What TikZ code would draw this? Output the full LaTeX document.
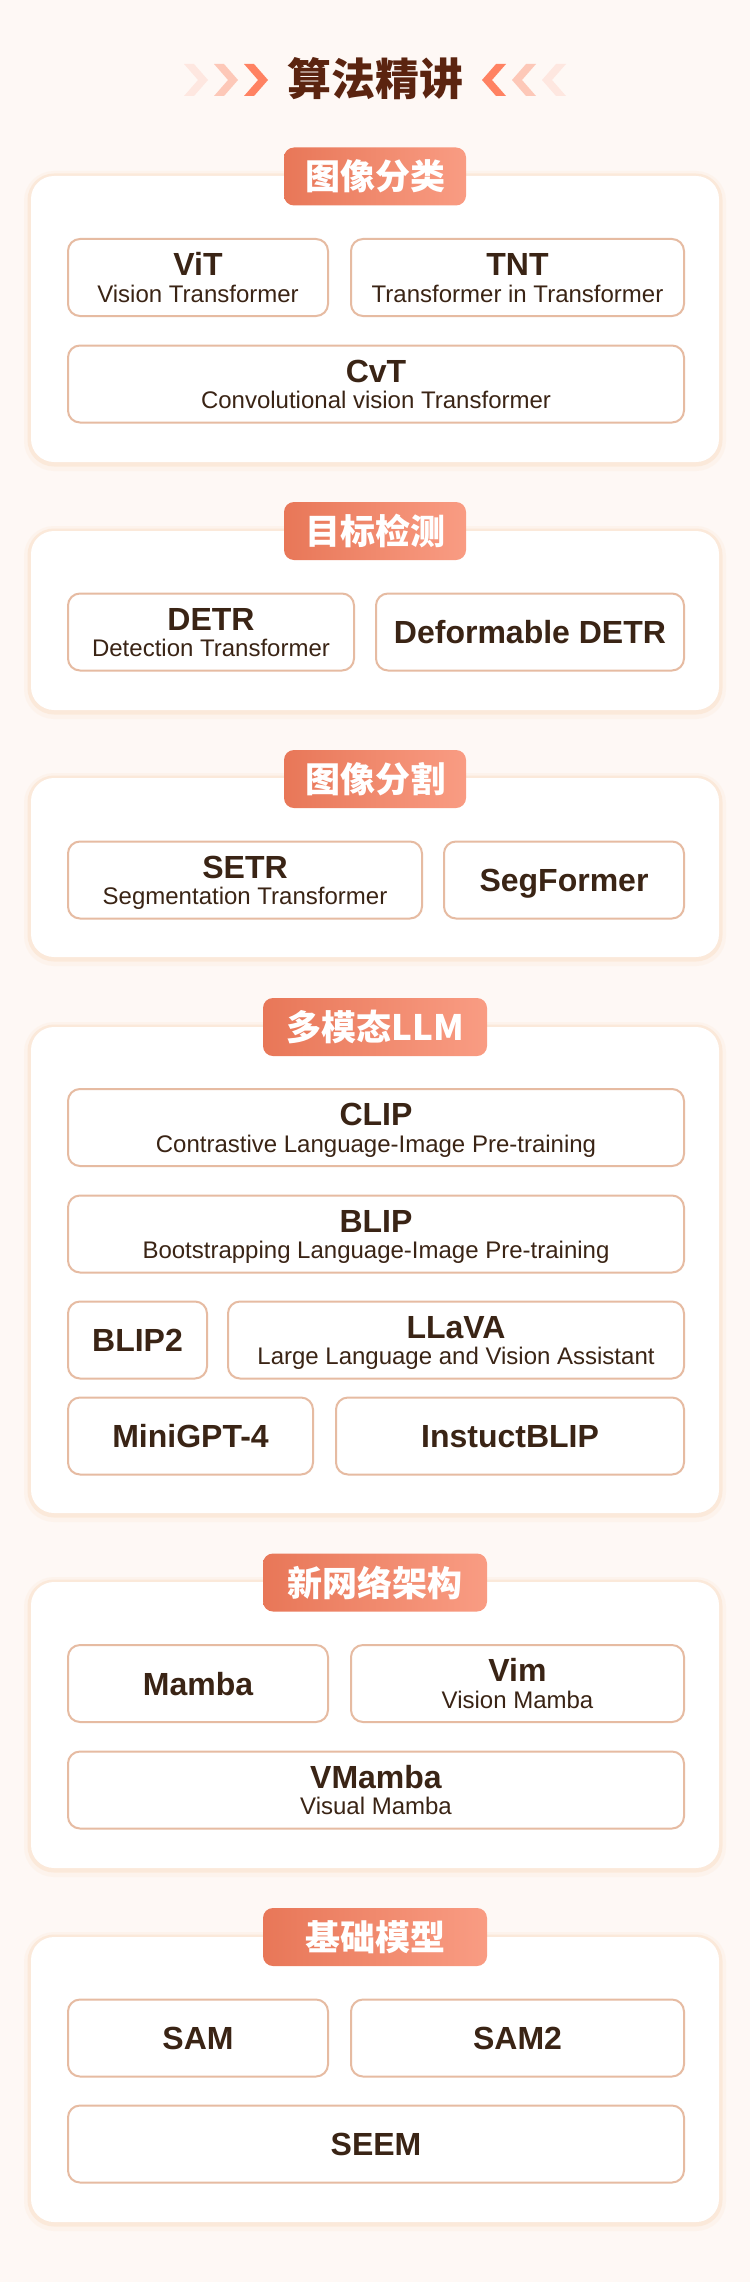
\documentclass[tikz,border=0pt]{standalone}
\usepackage{fontspec}
\setmainfont{Liberation Sans}
\newfontfamily\cjk{Noto Sans CJK SC}
\definecolor{bg}{HTML}{FEF8F5}
\definecolor{glow}{HTML}{FADCBF}
\definecolor{boxline}{HTML}{E6BBA2}
\definecolor{ink}{HTML}{3A2415}
\definecolor{titleink}{HTML}{5B2410}
\definecolor{tagL}{HTML}{E87758}
\definecolor{tagR}{HTML}{F99C83}
\definecolor{chevA}{HTML}{FF8262}
\definecolor{chevB}{HTML}{FDC8B8}
\definecolor{chevC}{HTML}{FEE7E0}
\begin{document}
\begin{tikzpicture}[x=1pt,y=-1pt,
  card/.style={fill=white, rounded corners=23pt, minimum width=688pt, inner sep=0pt,
    preaction={draw=glow, line width=14pt, opacity=0.15, transform canvas={yshift=-2pt}},
    preaction={draw=glow, line width=7pt, opacity=0.4, transform canvas={yshift=-1pt}}},
  tag/.style={rounded corners=10pt, left color=tagL, right color=tagR, text=white,
    minimum height=58pt, inner sep=0pt, font=\cjk\bfseries\fontsize{35}{35}\selectfont},
  model/.style={draw=boxline, line width=2pt, fill=white, rounded corners=12pt,
    minimum height=77pt, inner sep=0pt},
  mname/.style={anchor=base, text=ink, inner sep=0pt, font=\bfseries\fontsize{32}{32}\selectfont},
  mfull/.style={anchor=base, text=ink, inner sep=0pt, font=\fontsize{24}{24}\selectfont}]

  \path[use as bounding box, fill=bg] (0,0) rectangle (750,2282);

  \foreach \x/\c in {184/chevC, 214/chevB, 244/chevA}{
    \fill[\c] (\x,64) -- ++(10,0) -- ++(14,16) -- ++(-14,16) -- ++(-10,0) -- ++(14,-16) -- cycle;
    \fill[\c] (750-\x,64) -- ++(-10,0) -- ++(-14,16) -- ++(14,16) -- ++(10,0) -- ++(-14,-16) -- cycle;
  }
  \node[text=titleink, font=\cjk\bfseries\fontsize{44}{44}\selectfont] (title) at (375,79) {算法精讲};

  % 图像分类
  \node[card, minimum height=286pt] (cls) at (375,319) {};
  \node[tag, minimum width=182pt] (clstag) at (375,176.5) {图像分类};
  \node[model, minimum width=260pt] (vit) at (198,277.5) {};
  \node[mname] (vit-n) at ([yshift=2pt]vit.center) {ViT};
  \node[mfull] (vit-f) at ([yshift=-24.5pt]vit.center) {Vision Transformer};
  \node[model, minimum width=333pt] (tnt) at (517.5,277.5) {};
  \node[mname] (tnt-n) at ([yshift=2pt]tnt.center) {TNT};
  \node[mfull] (tnt-f) at ([yshift=-24.5pt]tnt.center) {Transformer in Transformer};
  \node[model, minimum width=616pt] (cvt) at (376,384) {};
  \node[mname] (cvt-n) at ([yshift=2pt]cvt.center) {CvT};
  \node[mfull] (cvt-f) at ([yshift=-24.5pt]cvt.center) {Convolutional vision Transformer};

  % 目标检测
  \node[card, minimum height=179pt] (det) at (375,620.5) {};
  \node[tag, minimum width=182pt] (dettag) at (375,531) {目标检测};
  \node[model, minimum width=286pt] (detr) at (211,632) {};
  \node[mname] (detr-n) at ([yshift=2pt]detr.center) {DETR};
  \node[mfull] (detr-f) at ([yshift=-24.5pt]detr.center) {Detection Transformer};
  \node[model, minimum width=308pt] (ddetr) at (530,632) {};
  \node[mname] (ddetr-n) at ([yshift=-11.5pt]ddetr.center) {Deformable DETR};

  % 图像分割
  \node[card, minimum height=179pt] (seg) at (375,867.5) {};
  \node[tag, minimum width=182pt] (segtag) at (375,779) {图像分割};
  \node[model, minimum width=354pt] (setr) at (245,880) {};
  \node[mname] (setr-n) at ([yshift=2pt]setr.center) {SETR};
  \node[mfull] (setr-f) at ([yshift=-24.5pt]setr.center) {Segmentation Transformer};
  \node[model, minimum width=240pt] (segf) at (564,880) {};
  \node[mname] (segf-n) at ([yshift=-11.5pt]segf.center) {SegFormer};

  % 多模态LLM
  \node[card, minimum height=486pt] (mllm) at (375,1270) {};
  \node[tag, minimum width=224pt] (mllmtag) at (375,1027) {多模态LLM};
  \node[model, minimum width=616pt] (clip) at (376,1127.5) {};
  \node[mname] (clip-n) at ([yshift=2pt]clip.center) {CLIP};
  \node[mfull] (clip-f) at ([yshift=-24.5pt]clip.center) {Contrastive Language-Image Pre-training};
  \node[model, minimum width=616pt] (blip) at (376,1234) {};
  \node[mname] (blip-n) at ([yshift=2pt]blip.center) {BLIP};
  \node[mfull] (blip-f) at ([yshift=-24.5pt]blip.center) {Bootstrapping Language-Image Pre-training};
  \node[model, minimum width=139pt] (blip2) at (137.5,1340) {};
  \node[mname] (blip2-n) at ([yshift=-11.5pt]blip2.center) {BLIP2};
  \node[model, minimum width=456pt] (llava) at (456,1340) {};
  \node[mname] (llava-n) at ([yshift=2pt]llava.center) {LLaVA};
  \node[mfull] (llava-f) at ([yshift=-24.5pt]llava.center) {Large Language and Vision Assistant};
  \node[model, minimum width=245pt] (minigpt) at (190.5,1436) {};
  \node[mname] (minigpt-n) at ([yshift=-11.5pt]minigpt.center) {MiniGPT-4};
  \node[model, minimum width=348pt] (iblip) at (510,1436) {};
  \node[mname] (iblip-n) at ([yshift=-11.5pt]iblip.center) {InstuctBLIP};

  % 新网络架构
  \node[card, minimum height=286pt] (arch) at (375,1725) {};
  \node[tag, minimum width=224pt] (archtag) at (375,1582.5) {新网络架构};
  \node[model, minimum width=260pt] (mamba) at (198,1683.5) {};
  \node[mname] (mamba-n) at ([yshift=-11.5pt]mamba.center) {Mamba};
  \node[model, minimum width=333pt] (vim) at (517.5,1683.5) {};
  \node[mname] (vim-n) at ([yshift=2pt]vim.center) {Vim};
  \node[mfull] (vim-f) at ([yshift=-24.5pt]vim.center) {Vision Mamba};
  \node[model, minimum width=616pt] (vmamba) at (376,1790) {};
  \node[mname] (vmamba-n) at ([yshift=2pt]vmamba.center) {VMamba};
  \node[mfull] (vmamba-f) at ([yshift=-24.5pt]vmamba.center) {Visual Mamba};

  % 基础模型
  \node[card, minimum height=285pt] (base) at (375,2079.5) {};
  \node[tag, minimum width=224pt] (basetag) at (375,1937) {基础模型};
  \node[model, minimum width=260pt] (sam) at (198,2038) {};
  \node[mname] (sam-n) at ([yshift=-11.5pt]sam.center) {SAM};
  \node[model, minimum width=333pt] (sam2) at (517.5,2038) {};
  \node[mname] (sam2-n) at ([yshift=-11.5pt]sam2.center) {SAM2};
  \node[model, minimum width=616pt] (seem) at (376,2144) {};
  \node[mname] (seem-n) at ([yshift=-11.5pt]seem.center) {SEEM};
\end{tikzpicture}
\end{document}
